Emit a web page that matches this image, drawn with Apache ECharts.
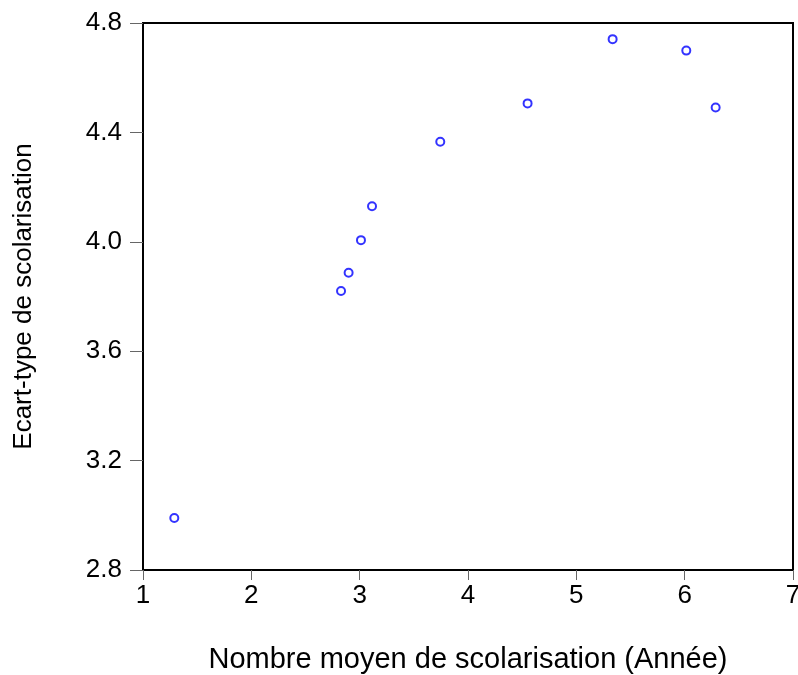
<!DOCTYPE html>
<html>
<head>
<meta charset="utf-8">
<script src="https://cdn.jsdelivr.net/npm/echarts@6/dist/echarts.min.js"></script>
<style>
html,body{margin:0;padding:0;background:#fff;}
#chart{width:798px;height:675px;}
</style>
</head>
<body>
<div id="chart"></div>
<script>
var xValues = [1.289, 2.828, 2.898, 3.012, 3.114, 3.744, 4.550, 5.335, 6.015, 6.286];
var yValues = [2.990, 3.820, 3.887, 4.006, 4.130, 4.366, 4.506, 4.741, 4.699, 4.491];
var xTitle = "Nombre moyen de scolarisation (Année)";
var yTitle = "Ecart-type de scolarisation";

var points = xValues.map(function (x, i) { return [x, yValues[i]]; });
var font = "'Liberation Sans', Arial, sans-serif";

var chart = echarts.init(document.getElementById('chart'), null, {renderer: 'canvas'});
chart.setOption({
  animation: false,
  backgroundColor: '#ffffff',
  grid: {
    left: 143, right: 5, top: 23, bottom: 105,
    outerBoundsMode: 'none',
    containLabel: false,
    show: true, borderColor: '#000', borderWidth: 2, backgroundColor: 'transparent'
  },
  xAxis: {
    type: 'value', min: 1, max: 7, interval: 1,
    name: xTitle, nameLocation: 'middle', nameGap: 75,
    nameTextStyle: {fontFamily: font, fontSize: 29, color: '#000'},
    axisLine: {show: true, onZero: false, lineStyle: {color: '#000', width: 2}},
    axisTick: {show: true, length: 10, lineStyle: {color: '#666', width: 1}},
    axisLabel: {fontFamily: font, fontSize: 26, color: '#000', margin: 13, hideOverlap: false},
    splitLine: {show: false}
  },
  yAxis: {
    type: 'value', min: 2.8, max: 4.8, interval: 0.4,
    name: yTitle, nameLocation: 'middle', nameGap: 106, nameRotate: 90,
    nameTextStyle: {fontFamily: font, fontSize: 26, color: '#000'},
    axisLine: {show: true, onZero: false, lineStyle: {color: '#000', width: 2}},
    axisTick: {show: true, length: 13, lineStyle: {color: '#666', width: 1}},
    axisLabel: {
      fontFamily: font, fontSize: 26, color: '#000', margin: 21,
      padding: [0, 0, 7, 0],
      formatter: function (v) { return v.toFixed(1); }
    },
    splitLine: {show: false}
  },
  series: [{
    type: 'scatter',
    data: points,
    symbol: 'circle',
    symbolSize: 8,
    itemStyle: {color: '#ffffff', borderColor: '#0000ff', borderWidth: 2}
  }]
});
</script>
</body>
</html>
